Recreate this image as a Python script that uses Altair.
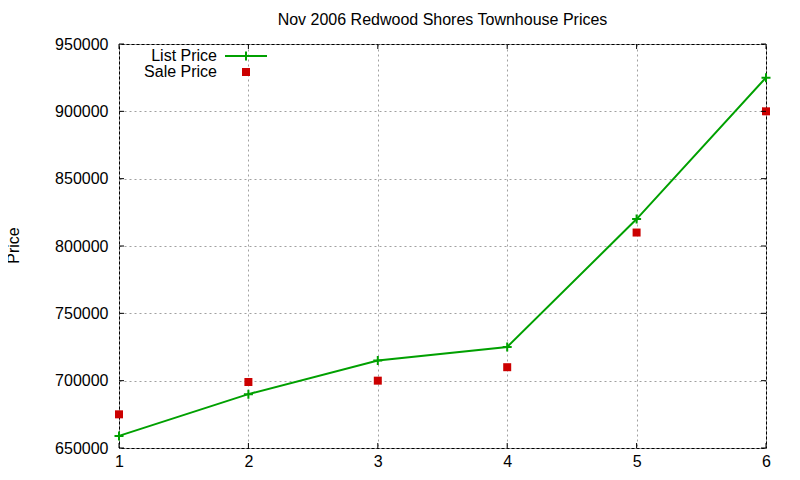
import pandas as pd
import altair as alt

# values
units = [1, 2, 3, 4, 5, 6]
list_price = [659000, 690000, 715000, 725000, 820000, 925000]
sale_price = [675000, 699000, 700000, 710000, 810000, 900000]
y_ticks = [650000, 700000, 750000, 800000, 850000, 900000, 950000]
x_ticks = [1, 2, 3, 4, 5, 6]

GREEN = '#00a000'
RED = '#cc0000'
FONT = 'Liberation Sans'
FS = 16
W, H = 647, 404
TICK = 5

df = pd.DataFrame({'n': units, 'list': list_price, 'sale': sale_price})
yt = pd.DataFrame({'n': x_ticks[:1] * len(y_ticks), 'list': y_ticks})
xt = pd.DataFrame({'n': x_ticks, 'list': [650000] * len(x_ticks)})

x_scale = alt.Scale(domain=[1, 6], nice=False, zero=False)
y_scale = alt.Scale(domain=[650000, 950000], nice=False, zero=False)
x_axis = alt.Axis(values=x_ticks, title=None, grid=True, domain=False,
                  ticks=False, tickSize=0, labelPadding=5, format='d',
                  labelFlush=False)
y_axis = alt.Axis(values=y_ticks, title='Price', grid=True, domain=False,
                  ticks=False, tickSize=0, labelPadding=11, format='d',
                  labelFlush=False,
                  titleAngle=-90, titleX=-106, titleY=201,
                  titleAlign='center', titleBaseline='middle',
                  titleFontWeight='normal', titleFontSize=FS, titleFont=FONT)
X = alt.X('n:Q', scale=x_scale, axis=x_axis)
Y = alt.Y('list:Q', scale=y_scale, axis=y_axis)

base = alt.Chart(df)

line = base.mark_line(color=GREEN, strokeWidth=2).encode(X, Y)

plus = base.mark_point(shape='M-1,0L1,0M0,-1L0,1', filled=False, size=81,
                       stroke=GREEN, strokeWidth=2, opacity=1).encode(X, Y)

squares = base.mark_square(color=RED, size=64, opacity=1).encode(
    X, alt.Y('sale:Q', scale=y_scale, axis=y_axis))

# gnuplot style inward ticks on all four sides
tick_left = alt.Chart(yt).mark_rule(color='black').encode(
    Y, x=alt.value(0), x2=alt.value(TICK))
tick_right = alt.Chart(yt).mark_rule(color='black').encode(
    Y, x=alt.value(W - TICK), x2=alt.value(W))
tick_bottom = alt.Chart(xt).mark_rule(color='black').encode(
    X, y=alt.value(H - TICK), y2=alt.value(H))
tick_top = alt.Chart(xt).mark_rule(color='black').encode(
    X, y=alt.value(0), y2=alt.value(TICK))

# key in the top left corner
one = alt.Chart(pd.DataFrame({'k': [0]}))
key_list = one.mark_text(align='right', baseline='middle', font=FONT, fontSize=FS,
                         text='List Price').encode(x=alt.value(98), y=alt.value(11.5))
key_sale = one.mark_text(align='right', baseline='middle', font=FONT, fontSize=FS,
                         text='Sale Price').encode(x=alt.value(98), y=alt.value(27.5))
key_line = one.mark_rule(color=GREEN, strokeWidth=2).encode(
    x=alt.value(106), x2=alt.value(148), y=alt.value(12))
key_plus = one.mark_point(shape='M-1,0L1,0M0,-1L0,1', filled=False, size=81,
                          stroke=GREEN, strokeWidth=2, opacity=1).encode(
    x=alt.value(127), y=alt.value(12))
key_square = one.mark_square(color=RED, size=64, opacity=1).encode(
    x=alt.value(127), y=alt.value(28))

chart = alt.layer(
    line, plus, squares,
    tick_left, tick_right, tick_bottom, tick_top,
    key_list, key_sale, key_line, key_plus, key_square
).properties(
    width=W, height=H,
    title=alt.Title('Nov 2006 Redwood Shores Townhouse Prices', font=FONT,
                    fontSize=FS, fontWeight='normal', offset=8, anchor='middle'),
    autosize=alt.AutoSizeParams(type='none'),
    padding={'left': 111, 'top': 36, 'right': 26, 'bottom': 24},
).configure_view(
    stroke='black', strokeWidth=1
).configure_axis(
    labelFont=FONT, labelFontSize=FS, labelColor='black',
    gridColor='#a0a0a0', gridDash=[2, 3], gridWidth=1, gridOpacity=1
)

chart.save("out.html", embed_options={"renderer": "svg", "actions": False})
